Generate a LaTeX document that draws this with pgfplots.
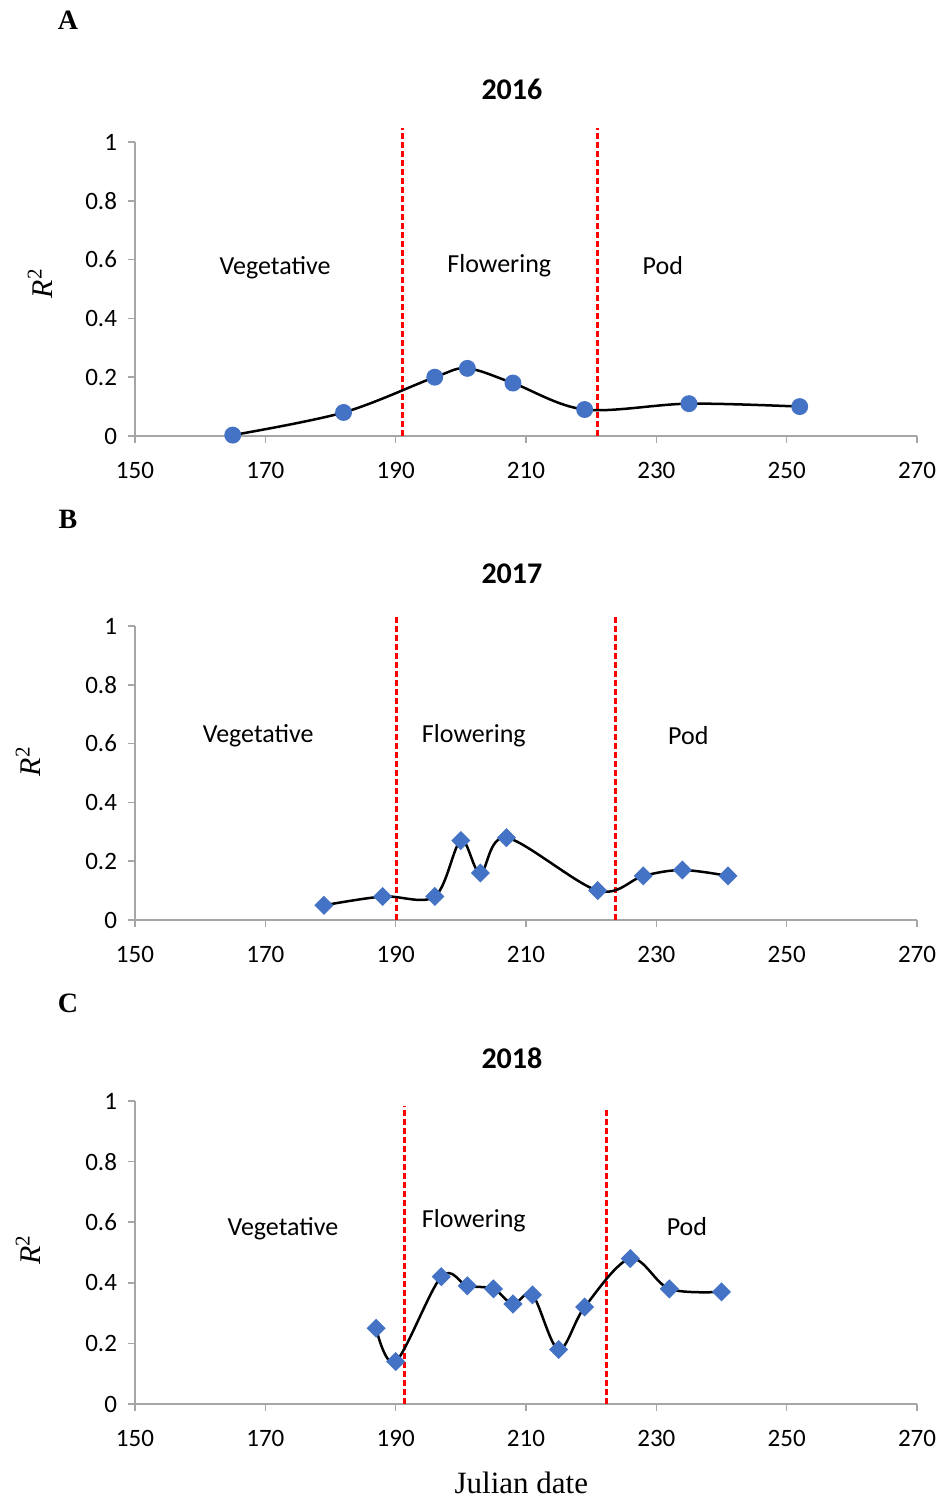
\documentclass[border=0pt]{standalone}
\usepackage{fontspec}
\setmainfont{Carlito}
\newfontfamily\tnr{Liberation Serif}
\usepackage{pgfplots}
\pgfplotsset{compat=1.18}

\definecolor{markblue}{HTML}{4472C4}
\definecolor{axgray}{HTML}{A6A6A6}

\pgfplotsset{
  panel/.style={
    scale only axis,
    width=391pt,
    xmin=150, xmax=270, ymin=0, ymax=1,
    xtick={150,170,...,270},
    ytick={0,0.2,0.4,0.6,0.8,1},
    axis x line*=bottom,
    axis y line*=left,
    axis line style={axgray, line width=0.75pt},
    tick style={axgray, line width=0.75pt},
    major tick length=3.5pt,
    tick align=outside,
    clip=false,
    /pgf/number format/assume math mode=true,
    ticklabel style={font=\fontsize{12.5}{14}\selectfont, text=black},
    yticklabel style={xshift=-2pt},
    xticklabel style={yshift=-6pt},
    title style={font=\fontsize{15}{18}\bfseries, anchor=center},
  },
  curve/.style={black, line width=1.25pt, smooth, tension=0.55,
    mark options={fill=markblue, draw=markblue, solid}},
  dmark/.style={mark=square*, mark size=2.75pt,
    mark options={fill=markblue, draw=markblue, solid, rotate=45}},
  phase/.style={red, line width=1.5pt, dash pattern=on 3pt off 1.5pt, forget plot},
}

\newcommand{\phaselabel}[3]{\node[font=\fontsize{13}{15}\selectfont, anchor=center] at (axis cs:#1,#2) {#3};}

\begin{document}
\begin{tikzpicture}
\useasboundingbox (0,0) rectangle (471.5pt,749.5pt);

% ---- A: 2016 ----
\begin{axis}[panel, height=147pt, at={(67.5pt,531.5pt)}, anchor=south west,
  title={2016}, title style={at={(axis description cs:0.482,1.137)}},
  ylabel={\tnr\fontsize{15}{18}\selectfont\itshape R\textsuperscript{\upshape 2}},
  ylabel style={at={(axis description cs:-0.1215,0.52)}, anchor=center}]
\addplot[phase] coordinates {(191.1,0) (191.1,1.048)};
\addplot[phase] coordinates {(220.9,0) (220.9,1.048)};
\addplot[curve, mark=*, mark size=3.6pt] coordinates {
  (165,0.003) (182,0.08) (196,0.20) (201,0.23) (208,0.18)
  (219,0.09) (235,0.11) (252,0.10)};
\phaselabel{171.5}{0.571}{Vegetative}
\phaselabel{205.9}{0.58}{Flowering}
\phaselabel{231}{0.58}{Pod}
\node[font=\tnr\bfseries\fontsize{14}{16}\selectfont] at (axis description cs:-0.0857,1.415) {A};
\end{axis}

% ---- B: 2017 ----
\begin{axis}[panel, height=147pt, at={(67.5pt,289.5pt)}, anchor=south west,
  title={2017}, title style={at={(axis description cs:0.482,1.137)}},
  ylabel={\tnr\fontsize{15}{18}\selectfont\itshape R\textsuperscript{\upshape 2}},
  ylabel style={at={(axis description cs:-0.137,0.54)}, anchor=center}]
\addplot[phase] coordinates {(190.2,0) (190.2,1.04)};
\addplot[phase] coordinates {(223.8,0) (223.8,1.03)};
\addplot[curve, dmark] coordinates {
  (179,0.05) (188,0.08) (196,0.08) (200,0.27) (203,0.16) (207,0.28)
  (221,0.10) (228,0.15) (234,0.17) (241,0.15)};
\phaselabel{168.9}{0.626}{Vegetative}
\phaselabel{202}{0.626}{Flowering}
\phaselabel{234.9}{0.626}{Pod}
\node[font=\tnr\bfseries\fontsize{14}{16}\selectfont] at (axis description cs:-0.0857,1.364) {B};
\end{axis}

% ---- C: 2018 ----
\begin{axis}[panel, height=151.5pt, at={(67.5pt,47.5pt)}, anchor=south west,
  title={2018}, title style={at={(axis description cs:0.482,1.1)}},
  ylabel={\tnr\fontsize{15}{18}\selectfont\itshape R\textsuperscript{\upshape 2}},
  ylabel style={at={(axis description cs:-0.137,0.51)}, anchor=center}]
\addplot[phase] coordinates {(191.3,0) (191.3,0.983)};
\addplot[phase] coordinates {(222.3,0) (222.3,0.97)};
\addplot[curve, dmark] coordinates {
  (187,0.25) (190,0.14) (197,0.42) (201,0.39) (205,0.38) (208,0.33)
  (211,0.36) (215,0.18) (219,0.32) (226,0.48) (232,0.38) (240,0.37)};
\phaselabel{172.7}{0.58}{Vegetative}
\phaselabel{202}{0.604}{Flowering}
\phaselabel{234.7}{0.587}{Pod}
\node[font=\tnr\bfseries\fontsize{14}{16}\selectfont] at (axis description cs:-0.0857,1.323) {C};
\node[font=\tnr\fontsize{15.5}{18}\selectfont] at (axis description cs:0.494,-0.261) {Julian date};
\end{axis}
\end{tikzpicture}
\end{document}
